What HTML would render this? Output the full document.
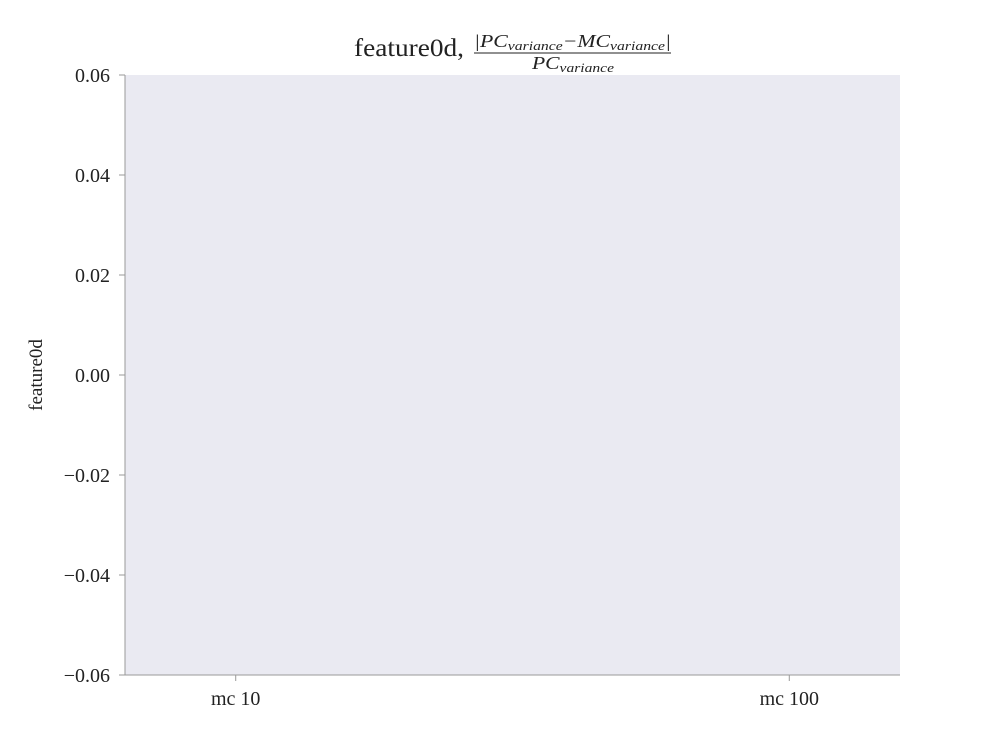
<!DOCTYPE html>
<html><head><meta charset="utf-8"><style>
body{margin:0;background:#fff;}
svg text{font-family:"Liberation Serif","DejaVu Serif",serif;fill:#222;}
</style></head><body>
<svg width="1000" height="750">
<rect x="125" y="75" width="775" height="600" fill="#eaeaf2"/>
<g>
<text x="354" y="56" font-size="25" textLength="110" lengthAdjust="spacingAndGlyphs">feature0d,</text>
<text x="474" y="47" font-size="18" font-style="italic" textLength="197" lengthAdjust="spacingAndGlyphs">|PC<tspan font-size="13" dy="3">variance</tspan><tspan dy="-3">−MC</tspan><tspan font-size="13" dy="3">variance</tspan><tspan dy="-3">|</tspan></text>
<line x1="474" y1="53" x2="671" y2="53" stroke="#222" stroke-width="1"/>
<text x="532" y="69" font-size="18" font-style="italic" textLength="82" lengthAdjust="spacingAndGlyphs">PC<tspan font-size="13" dy="3">variance</tspan></text>
</g>
<line x1="125" y1="75" x2="125" y2="675" stroke="#999"/>
<line x1="125" y1="675" x2="900" y2="675" stroke="#999"/>
<g id="yt"></g>
<g id="xt"></g>
<text transform="translate(42,375) rotate(-90)" text-anchor="middle" font-size="19">feature0d</text>
</svg>
<script>
const yTicks=[-0.06,-0.04,-0.02,0,0.02,0.04,0.06];
const yLabels=["\u22120.06","\u22120.04","\u22120.02","0.00","0.02","0.04","0.06"];
const categories=["mc 10","mc 100"];
const ns="http://www.w3.org/2000/svg";
const ys=v=>675-(v+0.06)/0.12*600;
const xs=i=>125+(i+0.2)/1.4*775;
const yt=document.getElementById('yt'),xt=document.getElementById('xt');
yTicks.forEach((v,i)=>{
const l=document.createElementNS(ns,'line');


l.setAttribute('x1',119);l.setAttribute('x2',125);l.setAttribute('y1',ys(v));l.setAttribute('y2',ys(v));l.setAttribute('stroke','#999');yt.appendChild(l);
const t=document.createElementNS(ns,'text');


t.setAttribute('x',110);t.setAttribute('y',ys(v)+7);t.setAttribute('text-anchor','end');t.setAttribute('font-size','20');t.textContent=yLabels[i];yt.appendChild(t);
});
categories.forEach((c,i)=>{
const l=document.createElementNS(ns,'line');


l.setAttribute('x1',xs(i));l.setAttribute('x2',xs(i));l.setAttribute('y1',675);l.setAttribute('y2',681);l.setAttribute('stroke','#999');xt.appendChild(l);
const t=document.createElementNS(ns,'text');


t.setAttribute('x',xs(i));t.setAttribute('y',705);t.setAttribute('text-anchor','middle');t.setAttribute('font-size','20');t.textContent=c;xt.appendChild(t);
});
</script>
</body></html>
